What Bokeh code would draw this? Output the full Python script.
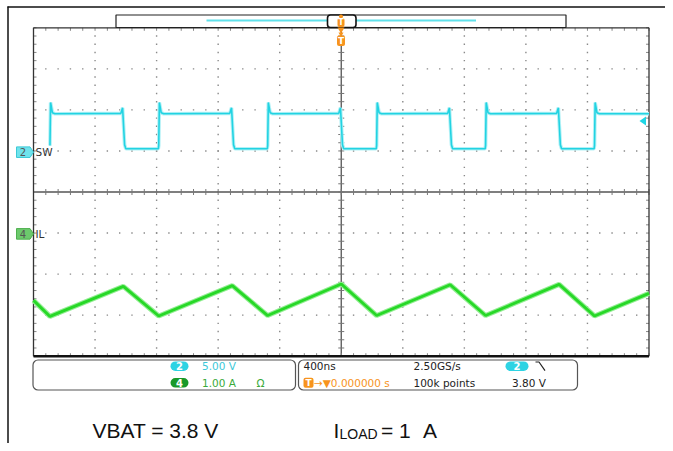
import numpy as np
from bokeh.plotting import figure
from bokeh.models import Range1d
from bokeh.core.properties import value
from bokeh.embed import file_html
from bokeh.resources import INLINE

# ---------------- data ----------------
# Channel 2 (SW node): edge times in ns and levels in V
sw_rise_ns = [-1893, -1186, -478, 230, 938, 1646]
sw_fall_ns = [-1416, -708, 0, 708, 1416]
sw_high_v = 4.68
sw_low_v = 0.41
sw_overshoot_v = 6.05
sw_prefall_v = 5.40
sw_edge_start_v = 0.80

# Channel 4 (inductor current): triangle vertices, time in ns, current in A
il_t_ns = [-2000, -1893, -1416, -1186, -708, -478, 0, 230, 708, 938, 1416, 1646, 2000]
il_a = [-1.62, -2.01, -1.28, -2.00, -1.26, -1.99, -1.22, -1.99, -1.24, -1.99, -1.23, -2.00, -1.45]

ch2_name, ch4_name = "SW", "IL"
ch2_scale_txt, ch4_scale_txt = "5.00 V", "1.00 A"
timebase_txt = "400ns"
sample_rate_txt = "2.50GS/s"
record_txt = "100k points"
trig_level_v = 3.80
trig_level_txt = "3.80 V"
trig_pos_txt = "\u2192\u25bc0.000000 s"
caption_vbat = "VBAT = 3.8 V"

NS_PER_DIV = 400.0
V_PER_DIV = 5.0
A_PER_DIV = 1.0
CH2_OFFSET_DIV = 0.97
CH4_OFFSET_DIV = -1.02

# ---------------- layout (picture pixels) ----------------
W, H = 665, 443
PX0, PY0 = 0, 0
GL, GR, GT, GB = 33.0, 648.5, 27.3, 355.7
dx = 10.0 / (GR - GL)
dy = 8.0 / (GB - GT)
X0 = -5 - (GL - PX0) * dx
X1 = 5 + (PX0 + W - GR) * dx
Y1 = 4 + (GT - PY0) * dy
Y0 = -4 - (PY0 + H - GB) * dy

p = figure(width=W, height=H, output_backend="svg", toolbar_location=None,
           x_range=Range1d(X0, X1), y_range=Range1d(Y0, Y1),
           x_axis_location=None, y_axis_location=None, min_border=0)
p.grid.visible = False
p.outline_line_color = None
p.background_fill_color = "white"
p.border_fill_color = "white"
p.extra_x_ranges = {"t": Range1d(X0 * NS_PER_DIV, X1 * NS_PER_DIV),
                    "px": Range1d(PX0, PX0 + W)}
p.extra_y_ranges = {"ch2": Range1d((Y0 - CH2_OFFSET_DIV) * V_PER_DIV, (Y1 - CH2_OFFSET_DIV) * V_PER_DIV),
                    "ch4": Range1d((Y0 - CH4_OFFSET_DIV) * A_PER_DIV, (Y1 - CH4_OFFSET_DIV) * A_PER_DIV),
                    "py": Range1d(PY0 + H, PY0)}
PXR = dict(x_range_name="px", y_range_name="py")
UI_FONT = value("DejaVu Sans")

# ---------------- graticule ----------------
minor = np.round(np.arange(-25, 26) * 0.2, 3)
minor_y = np.round(np.arange(-20, 21) * 0.2, 3)
dots_x, dots_y = [], []
for gx in range(-4, 5):
    if gx == 0:
        continue
    for yy in minor_y[1:-1]:
        dots_x.append(gx); dots_y.append(yy)
for gy in range(-3, 4):
    if gy == 0:
        continue
    for xx in minor[1:-1]:
        dots_x.append(xx); dots_y.append(gy)
p.scatter(dots_x, dots_y, marker="square", size=1.4, line_color=None, fill_color="#8a8a8a")

tx = 3.0 * dx
ty = 3.0 * dy
# centre lines with ticks
p.segment(x0=[-5, 0], y0=[0, -4], x1=[5, 0], y1=[0, 4], line_color="#555555", line_width=1.3)
p.segment(x0=minor, y0=-ty, x1=minor, y1=ty, line_color="#777777", line_width=1)
p.segment(x0=-tx, y0=minor_y, x1=tx, y1=minor_y, line_color="#777777", line_width=1)
# border ticks
p.segment(x0=minor, y0=4, x1=minor, y1=4 - ty, line_color="#888888", line_width=1)
p.segment(x0=minor, y0=-4, x1=minor, y1=-4 + ty, line_color="#888888", line_width=1)
p.segment(x0=-5, y0=minor_y, x1=-5 + tx, y1=minor_y, line_color="#888888", line_width=1)
p.segment(x0=5, y0=minor_y, x1=5 - tx, y1=minor_y, line_color="#888888", line_width=1)
# border
p.segment(x0=[-5, 5, -5], y0=[-4, -4, 4], x1=[-5, 5, 5], y1=[4, 4, 4], line_color="#333333", line_width=1.3)
p.segment(x0=[-5], y0=[-4], x1=[5], y1=[-4], line_color="#111111", line_width=2.5)

# ---------------- traces ----------------
sw_t, sw_v = [], []
for i, tr in enumerate(sw_rise_ns):
    sw_t += [tr, tr + 4, tr + 16, tr + 32]
    sw_v += [sw_edge_start_v, sw_overshoot_v, sw_high_v + 0.12, sw_high_v]
    if i < len(sw_fall_ns):
        tf = sw_fall_ns[i]
        sw_t += [tf - 16, tf - 5, tf + 8, tf + 16, sw_rise_ns[i + 1] - 3]
        sw_v += [sw_high_v + 0.05, sw_prefall_v, sw_low_v + 0.5, sw_low_v, sw_low_v]
    else:
        sw_t += [2000]
        sw_v += [sw_high_v]
p.line(sw_t, sw_v, x_range_name="t", y_range_name="ch2", line_color="#b3f1f6", line_width=3.6)
p.line(sw_t, sw_v, x_range_name="t", y_range_name="ch2", line_color="#22d3e2", line_width=1.6)

p.line(il_t_ns, il_a, x_range_name="t", y_range_name="ch4", line_color="#94ee94", line_width=5)
p.line(il_t_ns, il_a, x_range_name="t", y_range_name="ch4", line_color="#27d827", line_width=2.8)

# ---------------- channel markers ----------------
h2 = 5.3 * dy * V_PER_DIV
h4 = 5.3 * dy * A_PER_DIV
p.patch([16, 29.5, 33, 29.5, 16], [h2, h2, 0, -h2, -h2], x_range_name="px", y_range_name="ch2",
        fill_color="#6fe3ec", line_color="#3cc9d6", line_width=1)
p.text([22.5], [0], text=["2"], x_range_name="px", y_range_name="ch2", text_font=UI_FONT,
       text_font_size="10px", text_align="center", text_baseline="middle", text_color="#555555")
p.text([35], [0], text=[ch2_name], x_range_name="px", y_range_name="ch2", text_font=UI_FONT,
       text_font_size="10.5px", text_align="left", text_baseline="middle", text_color="#333333")
p.patch([16, 29.5, 33, 29.5, 16], [h4, h4, 0, -h4, -h4], x_range_name="px", y_range_name="ch4",
        fill_color="#6cc96c", line_color="#4fb04f", line_width=1)
p.text([22.5], [0], text=["4"], x_range_name="px", y_range_name="ch4", text_font=UI_FONT,
       text_font_size="10px", text_align="center", text_baseline="middle", text_color="#555555")
p.text([35], [0], text=[ch4_name], x_range_name="px", y_range_name="ch4", text_font=UI_FONT,
       text_font_size="10.5px", text_align="left", text_baseline="middle", text_color="#333333")
# trigger level arrow (right edge)
ha = 4.5 * dy * V_PER_DIV
p.patch([639, 645.5, 645.5], [trig_level_v, trig_level_v + ha, trig_level_v - ha], x_range_name="px",
        y_range_name="ch2", fill_color="#1fd6e5", line_color=None)

# ---------------- outer frame ----------------
p.segment(x0=[7.5, 7], y0=[6, 6.5], x1=[7.5, W], y1=[H, 6.5], line_color="#111111", line_width=1.5, **PXR)

# ---------------- header (record view) ----------------
p.quad(left=[115.5], right=[565.5], top=[14.5], bottom=[27], fill_color="white", line_color="#222222",
       line_width=1.2, **PXR)
p.segment(x0=[206, 355.5], y0=[20, 20], x1=[327, 475.5], y1=[20, 20], line_color="#5fe0ea", line_width=2, **PXR)
p.quad(left=[327], right=[355.5], top=[14.5], bottom=[27], fill_color="white", line_color="#111111",
       line_width=1.6, border_radius=3, **PXR)
ORANGE = "#f7941d"
p.scatter([340.5], [16], marker="circle", size=4, fill_color=ORANGE, line_color=None, **PXR)
p.quad(left=[337], right=[344], top=[17.5], bottom=[26.5], fill_color=ORANGE, line_color=None, border_radius=2, **PXR)
p.scatter([340.5], [29], marker="inverted_triangle", size=7, fill_color=ORANGE, line_color=None, **PXR)
p.text([340.6], [22.2], text=["T"], text_font=UI_FONT, text_font_size="8px", text_font_style="bold",
       text_align="center", text_baseline="middle", text_color="white", **PXR)
p.scatter([340.5], [33.5], marker="inverted_triangle", size=5, fill_color=ORANGE, line_color=None, **PXR)
p.quad(left=[336.5], right=[344.5], top=[35], bottom=[45.5], fill_color=ORANGE, line_color=None, border_radius=2, **PXR)
p.text([340.6], [40.4], text=["T"], text_font=UI_FONT, text_font_size="9px", text_font_style="bold",
       text_align="center", text_baseline="middle", text_color="white", **PXR)

# ---------------- bottom readout boxes ----------------
p.quad(left=[32.5, 298], right=[295, 577], top=[359.5, 359.5], bottom=[389.5, 389.5], fill_color=None,
       line_color="#555555", line_width=1.2, border_radius=5, **PXR)
R1, R2 = 365.7, 382.3
CYAN_BADGE, GREEN_BADGE = "#2ed3e3", "#18992a"
p.quad(left=[170, 170, 505], right=[188, 188, 528], top=[R1 - 4.8, R2 - 4.8, R1 - 4.8],
       bottom=[R1 + 4.8, R2 + 4.8, R1 + 4.8], fill_color=[CYAN_BADGE, GREEN_BADGE, CYAN_BADGE],
       line_color=None, border_radius=5, **PXR)
p.text([179, 179, 516.5], [R1, R2, R1], text=["2", "4", "2"], text_font=UI_FONT, text_font_size="10px",
       text_font_style="bold", text_align="center", text_baseline="middle", text_color="white", **PXR)
p.text([201.5, 201.5, 256], [R1, R2, R2], text=[ch2_scale_txt, ch4_scale_txt, "\u03a9"], text_font=UI_FONT,
       text_font_size="10.5px", text_align="left", text_baseline="middle",
       text_color=["#3cc8d8", "#3aaa3a", "#3aaa3a"], **PXR)
p.text([303, 413, 413, 511.5], [R1, R1, R2, R2],
       text=[timebase_txt, sample_rate_txt, record_txt, trig_level_txt], text_font=UI_FONT,
       text_font_size="10.5px", text_align="left", text_baseline="middle", text_color="#222222", **PXR)
# falling edge icon
p.line([535, 538.5, 544.5], [R1 - 4.2, R1 - 4.2, R1 + 4.5], line_color="#222222", line_width=1.2, **PXR)
# trigger position
p.quad(left=[303], right=[313], top=[R2 - 5], bottom=[R2 + 5], fill_color=ORANGE, line_color=None,
       border_radius=2, **PXR)
p.text([308], [R2], text=["T"], text_font=UI_FONT, text_font_size="9px", text_font_style="bold",
       text_align="center", text_baseline="middle", text_color="white", **PXR)
p.text([313.5], [R2], text=[trig_pos_txt], text_font=UI_FONT, text_font_size="10.5px", text_align="left",
       text_baseline="middle", text_color=ORANGE, **PXR)

# ---------------- captions ----------------
CAP_FONT = value("Liberation Sans")
CAP_KW = dict(text_font=CAP_FONT, text_align="left", text_baseline="alphabetic", text_color="#111111")
p.text([92], [430], text=[caption_vbat], text_font_size="21px", **CAP_KW, **PXR)
p.text([333], [430], text=["I"], text_font_size="21px", **CAP_KW, **PXR)
p.text([339], [433.5], text=["LOAD"], text_font_size="14px", **CAP_KW, **PXR)
p.text([380.5, 398.5, 422.5], [430, 430, 430], text=["=", "1", "A"], text_font_size="21px", **CAP_KW, **PXR)

open("out.html", "w").write(file_html(p, INLINE))
